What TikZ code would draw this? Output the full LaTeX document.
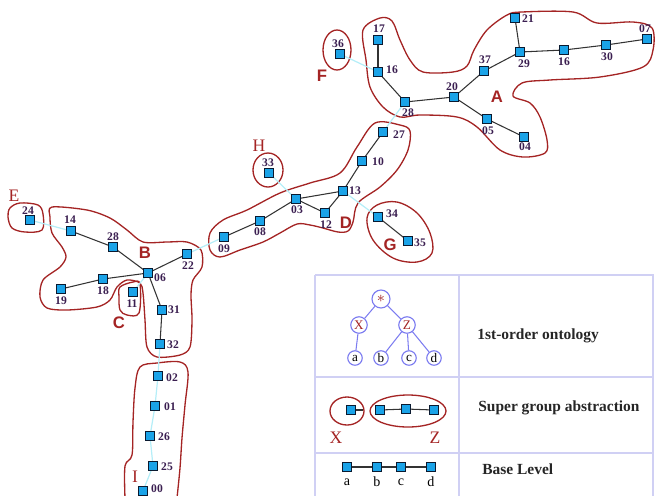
\documentclass[tikz,border=0pt]{standalone}
\usepackage{fontspec}
\setmainfont{Liberation Serif}
\setsansfont{Liberation Sans}
\definecolor{nodefill}{HTML}{1AA3E8}
\definecolor{nodedraw}{HTML}{0A1A30}
\definecolor{lbl}{HTML}{3A1E50}
\definecolor{grp}{HTML}{A42424}
\definecolor{edgec}{HTML}{333333}
\definecolor{faint}{HTML}{B5EEF8}
\definecolor{tbl}{HTML}{D0D0F4}
\definecolor{treec}{HTML}{7C7CF0}
\begin{document}
\begin{tikzpicture}[x=0.02cm,y=-0.02cm,
  sq/.style={draw=nodedraw, fill=nodefill, minimum size=0.165cm, inner sep=0pt, line width=0.6pt},
  lb/.style={font=\fontsize{6.6}{7}\selectfont\bfseries, text=lbl, inner sep=0pt},
  grpl/.style={font=\fontsize{9.5}{10}\selectfont\sffamily\bfseries, text=grp, inner sep=0pt},
  grps/.style={font=\fontsize{10}{10}\selectfont, text=grp, inner sep=0pt},
  hull/.style={draw=grp, line width=0.75pt},
  ed/.style={draw=edgec, line width=0.6pt},
  fl/.style={draw=faint, line width=0.7pt},
  tc/.style={circle, draw=treec, fill=white, line width=0.65pt, minimum size=0.33cm, inner sep=0pt, font=\fontsize{7.5}{8}\selectfont},
  legt/.style={font=\fontsize{8.8}{9}\selectfont\bfseries, text=black!85, anchor=west, inner sep=0pt}
]
\useasboundingbox (0,0) rectangle (655,495);

% ---------------- hulls ----------------
\draw[hull] plot[smooth cycle, tension=0.55] coordinates {
 (363,30) (380,18) (392,21) (400,40) (410,60) (423,72) (453,72) (467,66) (474,50)
 (487,30) (507,15) (522,12) (573,12) (597,23) (633,22) (652,28) (653,50) (643,67)
 (600,77) (550,80) (522,83) (513,96) (530,103) (540,117) (547,140) (545,153)
 (523,157) (500,150) (477,127) (457,117) (420,115) (400,117) (383,107) (370,87) (366,60)};
\draw[hull] (337,50) ellipse (14 and 20);
\draw[hull] plot[smooth cycle, tension=0.55] coordinates {
 (375,123) (400,125) (410,131) (408,150) (397,170) (380,187) (358,203) (353,222)
 (348,231) (338,232) (323,228) (310,225) (297,224) (280,233) (263,242) (240,250)
 (220,257) (210,250) (210,233) (223,220) (247,210) (280,193) (310,183) (340,173) (357,147)};
\draw[hull] (268,170) ellipse (15 and 17);
\draw[hull] plot[smooth cycle, tension=0.6] coordinates {
 (367,218) (377,205) (397,202) (417,213) (430,233) (432,253) (417,262) (393,258) (373,240)};
\draw[hull] plot[smooth cycle, tension=0.55] coordinates {
 (10,208) (20,203) (38,205) (43,214) (42,230) (25,232) (12,228) (8,217)};
\draw[hull] plot[smooth cycle, tension=0.5] coordinates {
 (52,207) (87,210) (110,218) (127,230) (143,242) (167,242) (187,242) (201,250)
 (202,267) (193,280) (191,295) (192,320) (190,347) (180,355) (157,357) (147,347)
 (145,320) (143,293) (140,283) (127,280) (117,287) (110,300) (97,307) (67,310)
 (47,308) (40,297) (43,280) (60,267) (66,257) (62,247) (52,233) (50,217)};
\draw[hull] plot[smooth cycle, tension=0.55] coordinates {
 (120,287) (133,282) (140,284) (139,313) (127,315) (120,310) (119,297)};
\draw[hull] plot[smooth, tension=0.55] coordinates {
 (125,498) (125,466) (132,455) (133,422) (135,388) (140,367) (157,363) (180,362)
 (188,372) (185,405) (182,438) (180,468) (177,498)};

% ---------------- nodes ----------------
% A
\node[sq] (n21) at (515,18) {};
\node[sq] (n17) at (378,40) {};
\node[sq] (n16a) at (378,72) {};
\node[sq] (n37) at (484,71) {};
\node[sq] (n29) at (520,52) {};
\node[sq] (n16b) at (564,50) {};
\node[sq] (n30) at (606,45) {};
\node[sq] (n07) at (647,39) {};
\node[sq] (n28a) at (405,102) {};
\node[sq] (n20) at (454,97) {};
\node[sq] (n05) at (487,119) {};
\node[sq] (n04) at (524,137) {};
\node[sq] (n36) at (340,54) {};
% D
\node[sq] (n27) at (383,132) {};
\node[sq] (n10) at (362,161) {};
\node[sq] (n13) at (343,191) {};
\node[sq] (n03) at (296,199) {};
\node[sq] (n12) at (325,213) {};
\node[sq] (n08) at (260,221) {};
\node[sq] (n09) at (224,237) {};
\node[sq] (n33) at (269,173) {};
\node[sq] (n34) at (378,217) {};
\node[sq] (n35) at (408,241) {};
% B
\node[sq] (n24) at (30,220) {};
\node[sq] (n14) at (71,231) {};
\node[sq] (n28b) at (113,247) {};
\node[sq] (n06) at (148,273) {};
\node[sq] (n22) at (187,254) {};
\node[sq] (n18) at (103,279) {};
\node[sq] (n19) at (61,289) {};
\node[sq] (n11) at (133,292) {};
\node[sq] (n31) at (162,310) {};
\node[sq] (n32) at (160,344) {};
% I
\node[sq] (n02) at (158,376) {};
\node[sq] (n01) at (155,406) {};
\node[sq] (n26) at (150,436) {};
\node[sq] (n25) at (153,466) {};
\node[sq] (n00) at (143,491) {};

% ---------------- faint links ----------------
\draw[fl] (n36) -- (n16a);
\draw[fl] (n28a) -- (n27);
\draw[fl] (n33) -- (n03);
\draw[fl] (n13) -- (n34);
\draw[fl] (n24) -- (n14);
\draw[fl] (n22) -- (n09);
\draw[fl] (n06) -- (n11);
\draw[fl] (n32) -- (n02);
\draw[fl] (n02) -- (n01) -- (n26) -- (n25) -- (n00);

% ---------------- edges ----------------
\draw[ed] (n17) -- (n16a);
\draw[ed] (n16a) -- (n28a);
\draw[ed] (n28a) -- (n20);
\draw[ed] (n20) -- (n37);
\draw[ed] (n37) -- (n29);
\draw[ed] (n29) -- (n21);
\draw[ed] (n29) -- (n16b);
\draw[ed] (n16b) -- (n30);
\draw[ed] (n30) -- (n07);
\draw[ed] (n20) -- (n05);
\draw[ed] (n05) -- (n04);
\draw[ed] (n27) -- (n10);
\draw[ed] (n10) -- (n13);
\draw[ed] (n13) -- (n03);
\draw[ed] (n03) -- (n12);
\draw[ed] (n12) -- (n13);
\draw[ed] (n03) -- (n08);
\draw[ed] (n08) -- (n09);
\draw[ed] (n34) -- (n35);
\draw[ed] (n14) -- (n28b);
\draw[ed] (n28b) -- (n06);
\draw[ed] (n06) -- (n22);
\draw[ed] (n06) -- (n18);
\draw[ed] (n18) -- (n19);
\draw[ed] (n06) -- (n31);
\draw[ed] (n31) -- (n32);

% redraw squares on top
\foreach \n in {n21,n17,n16a,n37,n29,n16b,n30,n07,n28a,n20,n05,n04,n36,n27,n10,n13,n03,n12,n08,n09,n33,n34,n35,n24,n14,n28b,n06,n22,n18,n19,n11,n31,n32,n02,n01,n26,n25,n00}
  \node[sq] at (\n) {};

% ---------------- labels ----------------
\node[lb] (l21) at (528,19) {21};
\node[lb] (l17) at (379,29) {17};
\node[lb] (l16a) at (392,70) {16};
\node[lb] (l28a) at (408,113) {28};
\node[lb] (l20) at (452,87) {20};
\node[lb] (l37) at (485,60) {37};
\node[lb] (l29) at (524,64) {29};
\node[lb] (l16b) at (564,62) {16};
\node[lb] (l30) at (607,57) {30};
\node[lb] (l07) at (645,29) {07};
\node[lb] (l05) at (488,131) {05};
\node[lb] (l04) at (525,147) {04};
\node[lb] (l36) at (338,44) {36};
\node[lb] (l27) at (399,135) {27};
\node[lb] (l10) at (378,162) {10};
\node[lb] (l13) at (355,191) {13};
\node[lb] (l03) at (297,210) {03};
\node[lb] (l12) at (326,225) {12};
\node[lb] (l08) at (260,232) {08};
\node[lb] (l09) at (224,249) {09};
\node[lb] (l33) at (268,163) {33};
\node[lb] (l34) at (392,214) {34};
\node[lb] (l35) at (420,243) {35};
\node[lb] (l24) at (28,211) {24};
\node[lb] (l14) at (70,220) {14};
\node[lb] (l28b) at (113,237) {28};
\node[lb] (l06) at (160,278) {06};
\node[lb] (l22) at (188,266) {22};
\node[lb] (l18) at (103,291) {18};
\node[lb] (l19) at (61,301) {19};
\node[lb] (l11) at (132,304) {11};
\node[lb] (l31) at (174,310) {31};
\node[lb] (l32) at (173,345) {32};
\node[lb] (l02) at (172,378) {02};
\node[lb] (l01) at (170,407) {01};
\node[lb] (l26) at (164,437) {26};
\node[lb] (l25) at (167,467) {25};
\node[lb] (l00) at (157,489) {00};

% group letters
\node[grpl] (gA) at (497,97) {A};
\node[grpl] (gB) at (145,253) {B};
\node[grpl] (gC) at (119,323) {C};
\node[grpl] (gD) at (346,223) {D};
\node[grps] (gE) at (14,196) {E};
\node[grpl] (gF) at (322,76) {F};
\node[grpl] (gG) at (390,245) {G};
\node[grps] (gH) at (259,146) {H};
\node[grps] (gI) at (135,477) {I};

% ---------------- legend table ----------------
\draw[tbl, line width=0.6pt] (315,275) -- (653,275) -- (653,498);
\draw[tbl, line width=0.6pt] (315,498) -- (315,275);
\draw[tbl, line width=0.6pt] (459,275) -- (459,498);
\draw[tbl, line width=0.6pt] (315,377) -- (653,377);
\draw[tbl, line width=0.6pt] (315,453) -- (653,453);

% row 1 tree
\node[tc, text=grp, minimum size=0.36cm, font=\fontsize{9}{9}\selectfont\bfseries] (tstar) at (381,299) {$\ast$};
\node[tc, text=grp] (tX) at (359,325) {X};
\node[tc, text=grp] (tZ) at (407,325) {Z};
\node[tc, minimum size=0.29cm] (ta) at (355,358) {a};
\node[tc, minimum size=0.29cm] (tb) at (381,358) {b};
\node[tc, minimum size=0.29cm] (tcc) at (409,358) {c};
\node[tc, minimum size=0.29cm] (td) at (434,358) {d};
\draw[treec, line width=0.6pt] (tstar) -- (tX);
\draw[treec, line width=0.6pt] (tstar) -- (tZ);
\draw[treec, line width=0.6pt] (tX) -- (ta);
\draw[treec, line width=0.6pt] (tZ) -- (tb);
\draw[treec, line width=0.6pt] (tZ) -- (tcc);
\draw[treec, line width=0.6pt] (tZ) -- (td);
\node[legt] (t1) at (477,336) {1st-order ontology};

% row 2 super groups
\node[sq] (sx) at (351,410) {};
\node[sq] (sz1) at (380,410) {};
\node[sq] (sz2) at (406,409) {};
\node[sq] (sz3) at (434,410) {};
\coordinate (sxe) at (363,410);
\draw[ed] (sx) -- (sxe);
\draw[ed] (sz1) -- (sz2);
\draw[ed] (sz2) -- (sz3);
\draw[hull] (347,411) ellipse (17 and 14);
\draw[hull] (408,411) ellipse (38 and 16);
\node[grps] (lX) at (336,438) {X};
\node[grps] (lZ) at (435,438) {Z};
\node[legt] (t2) at (478,408) {Super group abstraction};

% row 3 base level
\node[sq] (ba) at (347,467) {};
\node[sq] (bb) at (377,467) {};
\node[sq] (bc) at (401,467) {};
\node[sq] (bd) at (431,467) {};
\draw[ed] (ba) -- (bb);
\draw[ed] (bb) -- (bc);
\draw[ed] (bc) -- (bd);
\foreach \n in {ba,bb,bc,bd,sx,sz1,sz2,sz3} \node[sq] at (\n) {};
\node[font=\fontsize{8}{8}\selectfont, inner sep=0pt] (la) at (347,482) {a};
\node[font=\fontsize{8}{8}\selectfont, inner sep=0pt] (lb2) at (377,482) {b};
\node[font=\fontsize{8}{8}\selectfont, inner sep=0pt] (lc) at (401,482) {c};
\node[font=\fontsize{8}{8}\selectfont, inner sep=0pt] (ld) at (431,482) {d};
\node[legt] (t3) at (482,469) {Base Level};
\end{tikzpicture}
\end{document}
